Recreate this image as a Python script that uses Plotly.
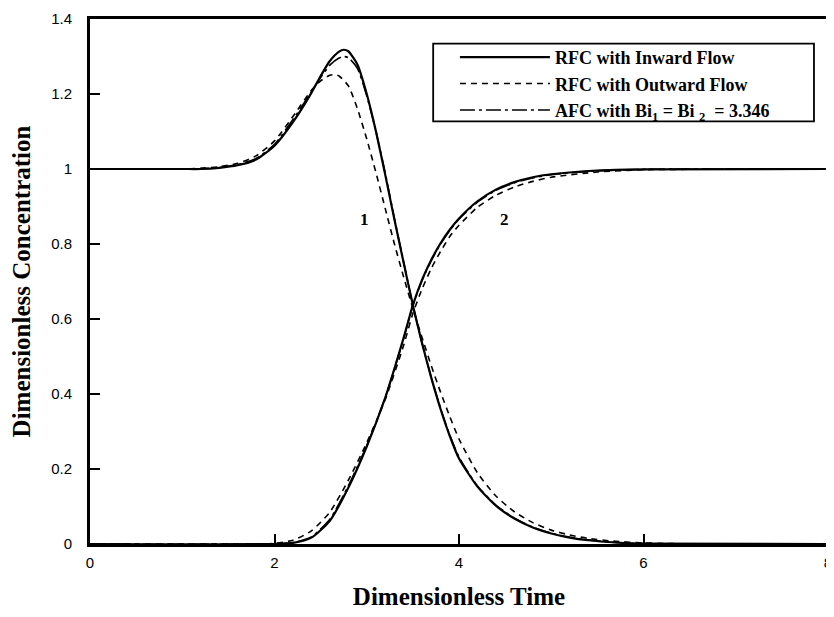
import plotly.graph_objects as go

# ---- data ----
t_in1 = [0, 1.0, 1.2, 1.4, 1.6, 1.8, 2.0, 2.2, 2.4, 2.5, 2.6, 2.7, 2.75, 2.8, 2.9, 3.0, 3.1, 3.2, 3.3, 3.4, 3.5, 3.6, 3.7, 3.8, 3.9, 4.0, 4.2, 4.4, 4.6, 4.8, 5.0, 5.2, 5.4, 5.7, 6.0, 8.0]
c_in1 = [1.0, 1.0, 1.0, 1.003, 1.01, 1.025, 1.062, 1.125, 1.203, 1.248, 1.288, 1.313, 1.318, 1.314, 1.278, 1.2, 1.1, 0.985, 0.865, 0.75, 0.637, 0.535, 0.443, 0.36, 0.288, 0.228, 0.153, 0.102, 0.068, 0.044, 0.028, 0.017, 0.01, 0.004, 0.001, 0.0]

t_in2 = [0, 2.0, 2.2, 2.4, 2.6, 2.8, 3.0, 3.2, 3.4, 3.5, 3.6, 3.7, 3.8, 3.9, 4.0, 4.2, 4.4, 4.6, 4.8, 5.0, 5.5, 6.0, 8.0]
c_in2 = [0.0, 0.0, 0.003, 0.017, 0.062, 0.15, 0.26, 0.39, 0.55, 0.637, 0.705, 0.758, 0.802, 0.838, 0.868, 0.914, 0.945, 0.965, 0.978, 0.986, 0.996, 0.999, 1.0]

t_out1 = [0, 1.0, 1.2, 1.4, 1.6, 1.8, 2.0, 2.2, 2.4, 2.5, 2.6, 2.65, 2.7, 2.8, 2.9, 3.0, 3.1, 3.2, 3.3, 3.4, 3.5, 3.6, 3.7, 3.8, 3.9, 4.0, 4.2, 4.4, 4.6, 4.8, 5.0, 5.2, 5.4, 5.7, 6.0, 6.3, 8.0]
c_out1 = [1.0, 1.0, 1.002, 1.006, 1.015, 1.035, 1.075, 1.14, 1.21, 1.235, 1.25, 1.252, 1.248, 1.222, 1.16, 1.08, 0.99, 0.895, 0.8, 0.712, 0.628, 0.55, 0.475, 0.405, 0.34, 0.28, 0.19, 0.128, 0.086, 0.057, 0.037, 0.024, 0.015, 0.007, 0.003, 0.001, 0.0]

t_out2 = [0, 1.8, 2.0, 2.2, 2.4, 2.6, 2.8, 3.0, 3.2, 3.4, 3.5, 3.6, 3.7, 3.8, 3.9, 4.0, 4.2, 4.4, 4.6, 4.8, 5.0, 5.5, 6.0, 8.0]
c_out2 = [0.0, 0.0, 0.002, 0.01, 0.035, 0.085, 0.17, 0.27, 0.385, 0.53, 0.615, 0.68, 0.735, 0.78, 0.82, 0.85, 0.898, 0.93, 0.952, 0.967, 0.978, 0.992, 0.998, 1.0]

t_afc1 = [0, 1.0, 1.2, 1.4, 1.6, 1.8, 2.0, 2.2, 2.4, 2.5, 2.6, 2.7, 2.75, 2.8, 2.9, 3.0, 3.1, 3.2, 3.3, 3.4, 3.5, 3.6, 3.7, 3.8, 3.9, 4.0, 4.2, 4.4, 4.6, 4.8, 5.0, 5.2, 5.4, 5.7, 6.0, 8.0]
c_afc1 = [1.0, 1.0, 1.001, 1.004, 1.012, 1.028, 1.066, 1.132, 1.206, 1.244, 1.277, 1.296, 1.3, 1.297, 1.268, 1.195, 1.1, 0.99, 0.868, 0.752, 0.637, 0.535, 0.443, 0.362, 0.29, 0.232, 0.155, 0.104, 0.069, 0.045, 0.029, 0.018, 0.011, 0.004, 0.001, 0.0]

t_afc2 = [0, 2.0, 2.2, 2.4, 2.6, 2.8, 3.0, 3.2, 3.4, 3.5, 3.6, 3.7, 3.8, 3.9, 4.0, 4.2, 4.4, 4.6, 4.8, 5.0, 5.5, 6.0, 8.0]
c_afc2 = [0.0, 0.0, 0.004, 0.019, 0.066, 0.155, 0.262, 0.39, 0.548, 0.636, 0.703, 0.756, 0.8, 0.836, 0.866, 0.912, 0.943, 0.963, 0.976, 0.985, 0.995, 0.999, 1.0]

x_ticks = [0, 2, 4, 6, 8]
y_ticks = [0, 0.2, 0.4, 0.6, 0.8, 1.0, 1.2, 1.4]
y_tick_text = ["0", "0.2", "0.4", "0.6", "0.8", "1", "1.2", "1.4"]
names = ["RFC with Inward Flow", "RFC with Outward Flow", "AFC with Bi<sub>1</sub> = Bi <sub>2</sub>  = 3.346"]
curve_labels = [("1", 2.98, 0.866), ("2", 4.49, 0.866)]

serif = "Liberation Serif, Times New Roman, serif"
sans = "Liberation Sans, Arial, sans-serif"

fig = go.Figure()
styles = [
    dict(color="black", width=2.2, dash="solid"),
    dict(color="black", width=1.6, dash="6px,5px"),
    dict(color="black", width=1.6, dash="15px,4px,3px,4px"),
]
sets = [(t_in1, c_in1, t_in2, c_in2), (t_out1, c_out1, t_out2, c_out2), (t_afc1, c_afc1, t_afc2, c_afc2)]
for i, (ta, ca, tb, cb) in enumerate(sets):
    fig.add_trace(go.Scatter(x=ta, y=ca, mode="lines", line=dict(shape="spline", smoothing=0.6, **styles[i]),
                             name="<b>%s</b>" % names[i], legendgroup=str(i), showlegend=True))
    fig.add_trace(go.Scatter(x=tb, y=cb, mode="lines", line=dict(shape="spline", smoothing=0.6, **styles[i]),
                             name=names[i], legendgroup=str(i), showlegend=False))

for txt, xx, yy in curve_labels:
    fig.add_annotation(x=xx, y=yy, text="<b>%s</b>" % txt, showarrow=False,
                       font=dict(family=serif, size=17, color="black"))

# legend frame
fig.add_shape(type="rect", xref="paper", yref="paper", x0=0.465, x1=0.981, y0=0.805, y1=0.953,
              line=dict(color="black", width=1.8), fillcolor="rgba(0,0,0,0)", layer="above")

# page body adds an 8px margin, so the figure is sized 8px smaller than the window
fig.update_layout(
    width=826, height=609,
    margin=dict(l=82, r=2, t=7, b=73),
    paper_bgcolor="white", plot_bgcolor="white",
    showlegend=True,
    legend=dict(x=0.4945, y=0.962, xanchor="left", yanchor="top",
                borderwidth=0, bgcolor="rgba(0,0,0,0)",
                font=dict(family=serif, size=18, color="black"),
                itemwidth=90, tracegroupgap=0),
    font=dict(family=sans, size=14, color="black"),
)
fig.update_xaxes(range=[0, 8], tickvals=x_ticks, ticks="inside", ticklen=10, tickwidth=1.5,
                 tickcolor="black", showline=True, linecolor="black", linewidth=3, mirror=True,
                 showgrid=False, zeroline=False, ticklabelstandoff=3, ticklabeloverflow="allow",
                 tickfont=dict(family=sans, size=15),
                 title=dict(text="<b>Dimensionless Time</b>", font=dict(family=serif, size=25), standoff=18))
fig.update_yaxes(range=[0, 1.4], tickvals=y_ticks, ticktext=y_tick_text, ticks="inside", ticklen=10,
                 tickwidth=1.5, tickcolor="black", showline=True, linecolor="black", linewidth=3, mirror=True,
                 showgrid=False, zeroline=False, ticklabelstandoff=12, ticklabeloverflow="allow",
                 tickfont=dict(family=sans, size=15),
                 title=dict(text="<b>Dimensionless Concentration</b>", font=dict(family=serif, size=25), standoff=18))

fig.write_html("out.html")
